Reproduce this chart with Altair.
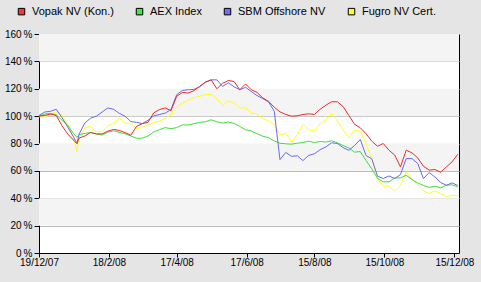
import altair as alt
import pandas as pd

dates = [
    "2007-12-19", "2007-12-24", "2007-12-29", "2008-01-03", "2008-01-08", "2008-01-13",
    "2008-01-18", "2008-01-21", "2008-01-23", "2008-01-28", "2008-02-02", "2008-02-07",
    "2008-02-12", "2008-02-17", "2008-02-22", "2008-02-27", "2008-03-03", "2008-03-08",
    "2008-03-13", "2008-03-18", "2008-03-23", "2008-03-28", "2008-04-02", "2008-04-07",
    "2008-04-12", "2008-04-17", "2008-04-22", "2008-04-27", "2008-05-02", "2008-05-07",
    "2008-05-12", "2008-05-17", "2008-05-22", "2008-05-27", "2008-06-01", "2008-06-06",
    "2008-06-11", "2008-06-16", "2008-06-21", "2008-06-26", "2008-07-01", "2008-07-06",
    "2008-07-11", "2008-07-16", "2008-07-21", "2008-07-26", "2008-07-31", "2008-08-05",
    "2008-08-10", "2008-08-15", "2008-08-20", "2008-08-25", "2008-08-30", "2008-09-04",
    "2008-09-09", "2008-09-14", "2008-09-19", "2008-09-24", "2008-09-29", "2008-10-04",
    "2008-10-09", "2008-10-14", "2008-10-19", "2008-10-24", "2008-10-29", "2008-11-03",
    "2008-11-08", "2008-11-13", "2008-11-18", "2008-11-23", "2008-11-28", "2008-12-03",
    "2008-12-08", "2008-12-13", "2008-12-18",
]

vopak = [
    100, 100.5, 101.5, 100.5, 93, 87, 82.5, 80, 84, 85.5, 88, 87,
    87, 89, 90.3, 89.5, 88, 86, 92.5, 94.5, 95.5, 102.4, 104.8, 106,
    104, 114.5, 117.3, 116.9, 118.6, 121.7, 124.8, 126.5, 120, 124, 126, 125.3,
    119.3, 123.5, 119.3, 117.3, 113.3, 110.8, 106.5, 103.1, 101.2, 100, 100.2, 101.2,
    101.7, 101.2, 105, 108, 110.5, 110.5, 107, 100.5, 94, 91.5, 87.1, 81.7,
    78, 80, 75.1, 71.5, 62.9, 75.1, 73.2, 69.5, 63.4, 60.5, 61, 59,
    62.9, 66.6, 72.2,
]

aex = [
    100, 101.5, 102, 101, 97, 93.3, 87.3, 84.5, 86.5, 87.4, 88.1, 86.9,
    86.2, 88.3, 89.3, 88.1, 87.1, 85.5, 83.8, 83.9, 85.5, 88.4, 90.1, 91.6,
    90.8, 91.6, 93.7, 93.5, 94.5, 95.4, 95.9, 97.3, 95.9, 94.9, 95.7, 94.7,
    92.5, 90, 89.2, 87.2, 85.3, 84.3, 81.9, 80.2, 79.8, 79.5, 80.2, 80.7,
    81.7, 80.7, 81.5, 81, 82, 80.5, 78.5, 76.8, 73.7, 74.1, 67.6, 61.5,
    54.5, 52, 52, 54.9, 54.9, 56.8, 53.7, 51.2, 49.3, 48, 48.8, 47.6,
    49.5, 49.8, 48.3,
]

sbm = [
    100.5, 103, 103.5, 105, 99, 92, 85, 80, 87, 95, 98.5, 100,
    103, 106, 105, 102, 100, 96, 95.5, 94.5, 97, 100.2, 101.2, 102.2,
    104.8, 115.7, 118.8, 119.3, 119.5, 121.4, 124.8, 126.5, 126.5, 121.7, 124.3, 121.4,
    119.3, 121, 118, 115, 112.8, 110.4, 103.6, 68.2, 73.5, 70.6, 71.1, 67.5,
    71.3, 72.5, 75.5, 77.5, 80.5, 80, 77, 75, 78.5, 82.9, 71.2, 68.8,
    56.1, 54.4, 56.3, 54.4, 57.3, 69, 69, 65.4, 54.4, 58.8, 55.6, 51.5,
    49.5, 51.2, 49.3,
]

fugro = [
    99.5, 99.5, 101.4, 102.9, 100.5, 94, 84.5, 74, 84.5, 91.7, 92.6, 88.6,
    88.6, 92.9, 94.8, 98.6, 94.8, 94.8, 90.5, 92, 93.5, 95.2, 96.4, 98.3,
    101.2, 106.5, 109.6, 111.6, 113.5, 114.5, 115.7, 115.9, 112.8, 107.7, 111.3, 109.6,
    106, 106, 102.4, 101.7, 98.3, 96.4, 94, 86.3, 87.5, 81.2, 86.3, 94,
    89.9, 89.2, 94.5, 97.5, 102, 96.5, 90, 84, 90, 89, 79.8, 68.8,
    54.5, 48.8, 48.8, 45.1, 49.5, 59.3, 53.7, 50.2, 45.4, 43.4, 45.4, 43.4,
    41, 42.2, 41.7,
]

series_names = ["Vopak NV (Kon.)", "AEX Index", "SBM Offshore NV", "Fugro NV Cert."]
series_colors = ["#ec2a2a", "#40dc40", "#6a6aee", "#ffff1e"]
legend_colors = ["#f03a3a", "#44e844", "#7070f0", "#ffff22"]
draw_order = ["Fugro NV Cert.", "AEX Index", "SBM Offshore NV", "Vopak NV (Kon.)"]
line_colors = dict(zip(series_names, series_colors))
series_values = {
    "Vopak NV (Kon.)": vopak,
    "AEX Index": aex,
    "SBM Offshore NV": sbm,
    "Fugro NV Cert.": fugro,
}

band_low = [20, 60, 100, 140]
band_high = [40, 80, 120, 160]
y_ticks = [0, 20, 40, 60, 80, 100, 120, 140, 160]
x_ticks = [(2007, 12, 19), (2008, 2, 18), (2008, 4, 17), (2008, 6, 17),
           (2008, 8, 15), (2008, 10, 15), (2008, 12, 15)]
x_domain = [(2007, 12, 19), (2008, 12, 19)]

rows = []
for name in draw_order:
    for d, v in zip(dates, series_values[name]):
        rows.append({"date": d, "value": v, "series": name, "label": name})
df = pd.DataFrame(rows)
bands = pd.DataFrame({"lo": band_low, "hi": band_high})


def dt(t):
    return alt.DateTime(year=t[0], month=t[1], date=t[2], utc=True)


y_scale = alt.Scale(domain=[0, 160], nice=False)
x_scale = alt.Scale(type="utc", domain=[dt(t) for t in x_domain], nice=False)
x_axis = alt.Axis(values=[dt(t) for t in x_ticks],
                  labelExpr="utcFormat(datum.value, '%-d/%-m/%y')",
                  title=None, grid=False, tickSize=4,
                  labelPadding=0, labelFlush=False, labelOverlap=False)
y_axis = alt.Axis(values=y_ticks, title=None, grid=True, gridColor="#bcbcbc",
                  gridWidth=1, tickSize=5, labelPadding=2,
                  labelExpr="datum.value + '\u2009%'")

band_layer = alt.Chart(bands).mark_rect(color="#f4f4f4").encode(
    y=alt.Y("lo:Q", scale=y_scale, axis=y_axis),
    y2="hi:Q",
    x=alt.value(0),
    x2=alt.value("width"),
)

# line colour scale uses the drawing order as its domain (differs from the legend's)
lines = alt.Chart(df).mark_line(strokeWidth=1, clip=True).encode(
    x=alt.X("date:T", scale=x_scale, axis=x_axis),
    y=alt.Y("value:Q", scale=y_scale, axis=y_axis),
    color=alt.Color("series:N",
                    scale=alt.Scale(domain=draw_order,
                                    range=[line_colors[n] for n in draw_order]),
                    legend=None),
    detail="series:N",
)

legend_layer = alt.Chart(df).transform_filter("false").mark_square(
    filled=True, size=42, stroke="black", strokeWidth=1
).encode(
    x=alt.X("date:T", scale=x_scale, axis=x_axis),
    y=alt.Y("value:Q", scale=y_scale, axis=y_axis),
    fill=alt.Fill("label:N",
                  scale=alt.Scale(domain=series_names, range=legend_colors),
                  legend=alt.Legend(
                      title=None, orient="none", legendX=-23, legendY=-28,
                      direction="horizontal", symbolType="square", symbolSize=42,
                      symbolStrokeWidth=1, symbolStrokeColor="black",
                      symbolOpacity=1,
                      labelFont="Liberation Sans", labelFontSize=11,
                      labelColor="black", labelOffset=5, columnPadding=20,
                      padding=0)),
)

chart = alt.layer(band_layer, lines, legend_layer).properties(
    width=420, height=219,
    background="#e5e5e5",
    padding={"left": 39, "top": 34, "right": 22, "bottom": 29},
    autosize=alt.AutoSizeParams(type="none"),
).configure_view(
    stroke="black", strokeWidth=1, fill="white",
).configure_axis(
    domainColor="black", domainWidth=1, tickColor="black", tickWidth=1,
    labelFont="Liberation Sans", labelFontSize=10, labelColor="black",
)

chart.save("out.html", embed_options={"renderer": "svg", "actions": False})
